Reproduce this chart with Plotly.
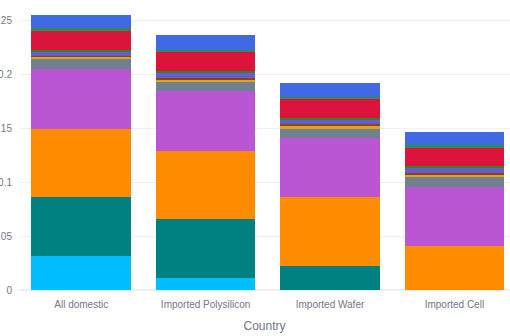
import plotly.graph_objects as go

countries = ["All domestic", "Imported Polysilicon", "Imported Wafer", "Imported Cell"]

series_names = ["s1", "s2", "s3", "s4", "s5", "s6", "s7", "s8", "s9", "s10", "s11", "s12"]
series_colors = ["deepskyblue", "teal", "darkorange", "mediumorchid", "slategray", "goldenrod",
                 "saddlebrown", "slateblue", "forestgreen", "crimson", "seagreen", "royalblue"]

s1 = [0.0314, 0.0113, 0.0, 0.0]
s2 = [0.0547, 0.0547, 0.0227, 0.0]
s3 = [0.0637, 0.0636, 0.0640, 0.0413]
s4 = [0.0552, 0.0549, 0.0547, 0.0547]
s5 = [0.0097, 0.0088, 0.0086, 0.0086]
s6 = [0.0021, 0.0025, 0.0030, 0.0028]
s7 = [0.0009, 0.0015, 0.0009, 0.0013]
s8 = [0.0037, 0.0041, 0.0037, 0.0043]
s9 = [0.0016, 0.0024, 0.0019, 0.0019]
s10 = [0.0176, 0.0173, 0.0176, 0.0173]
s11 = [0.0028, 0.0019, 0.0019, 0.0021]
s12 = [0.0123, 0.0139, 0.0130, 0.0130]

series_values = [s1, s2, s3, s4, s5, s6, s7, s8, s9, s10, s11, s12]

fig = go.Figure()
for name, color, vals in zip(series_names, series_colors, series_values):
    fig.add_trace(go.Bar(x=countries, y=vals, name=name, marker_color=color,
                         marker_line_width=0))

fig.update_layout(
    template="plotly_white",
    barmode="stack",
    width=510, height=336,
    margin=dict(l=19, r=0, t=0, b=46),
    showlegend=False,
    font=dict(family="Liberation Sans, Arial, sans-serif", color="#72768a", size=10),
    bargap=0.2,
)
fig.update_xaxes(range=[-0.5, 3.447], automargin=False, ticklabelstandoff=7,
                 title=dict(text="Country", font=dict(size=12), standoff=12))
fig.update_yaxes(range=[0, 0.2695], dtick=0.05, automargin=False, ticklabelstandoff=6)

fig.write_html("out.html")
